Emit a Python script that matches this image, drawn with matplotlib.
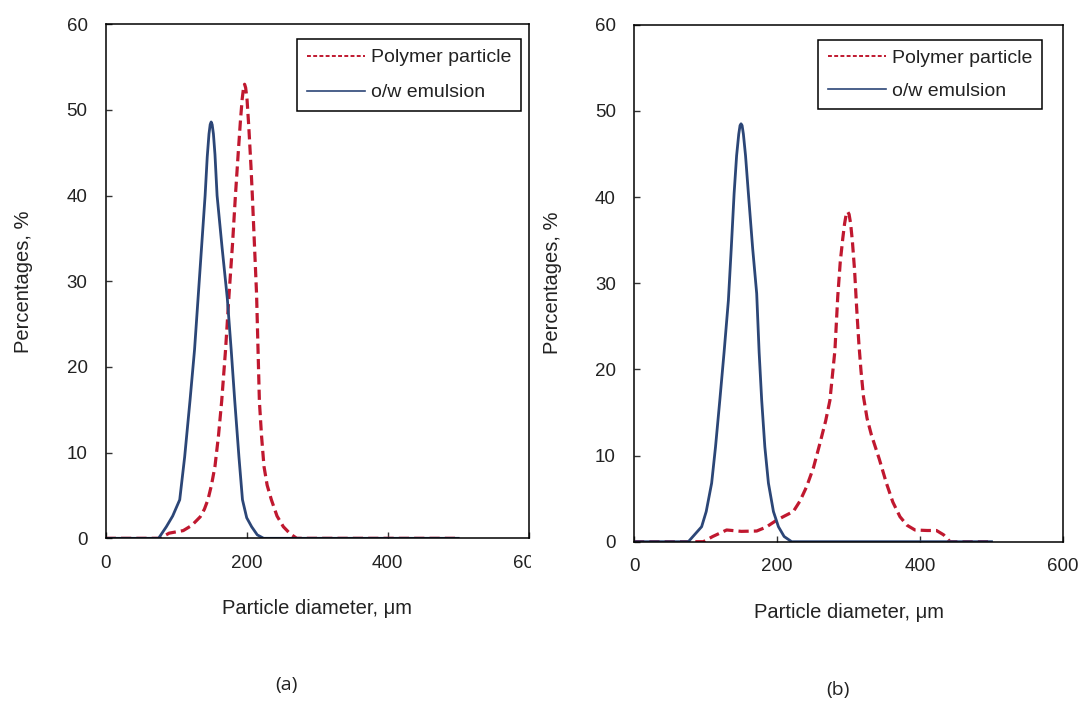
import matplotlib
matplotlib.use("Agg")
import matplotlib.pyplot as plt
from matplotlib.lines import Line2D
from matplotlib.transforms import Bbox, TransformedBbox

plt.rcParams['font.family'] = ['Liberation Sans', 'DejaVu Sans']

# (a) values
a_poly_x = [0, 50, 77, 90, 110, 122, 134, 140, 145, 150, 155, 160, 164.5, 170, 175, 180, 184,
            188, 191, 193.5, 195.5, 197, 198.5, 200.5, 203, 206, 208, 214, 218, 221, 224.5,
            229, 235, 243, 252, 262, 271, 300, 400, 500]
a_poly_y = [0, 0, 0, 0.6, 0.9, 1.5, 2.5, 3.4, 4.5, 6.2, 8.4, 12, 16, 22, 28.5, 34.5, 40,
            45, 48.6, 51.2, 52.6, 53, 52.6, 51.2, 48, 43.5, 40, 28.5, 16, 12, 8.4,
            6.2, 4.5, 2.6, 1.35, 0.5, 0, 0, 0, 0]
a_emul_x = [0, 50, 75, 86, 95, 105, 112, 119.6, 126, 131, 136, 141, 144, 146.5, 148.2, 149.6,
            151, 152.8, 155, 158, 165, 172.5, 178, 183, 189, 194, 200, 207, 215, 224, 300, 400, 500]
a_emul_y = [0, 0, 0, 1.35, 2.6, 4.5, 9.5, 16.1, 22, 28, 34, 40, 44.5, 47.2, 48.3, 48.6,
            48.3, 47.2, 44.8, 40, 34, 28, 22, 16.1, 9.5, 4.5, 2.4, 1.35, 0.4, 0, 0, 0, 0]

# (b)
b_poly_x = [0, 50, 97, 110, 129.6, 150, 171.6, 185, 199.6, 211, 222.8, 232, 241.5, 251, 260,
            268, 274, 281, 285, 288.5, 292, 294.5, 296.8, 298.8, 300.8, 303, 305.5, 308.5, 311.5,
            314.5, 317.5, 321, 326, 332, 343, 353, 362, 372, 382, 393, 410, 423, 433, 442, 470, 500]
b_poly_y = [0, 0, 0, 0.6, 1.36, 1.2, 1.24, 1.7, 2.5, 3.0, 3.5, 4.7, 6.4, 8.6, 11.4,
            14, 16.4, 22.2, 28.5, 32.5, 35.2, 36.9, 38, 38.3, 38, 36.9, 34.8, 31.5, 27,
            23, 19.8, 16.8, 14.3, 12.4, 9.6, 6.8, 4.6, 2.9, 1.9, 1.36, 1.3, 1.3, 0.8, 0, 0, 0]
b_emul_x = [0, 50, 76, 94.6, 101, 108.6, 114, 120, 126, 132, 136, 140, 143.5, 146.5, 148.3,
            149.7, 151.2, 153, 156, 160, 166, 171.6, 175, 178.6, 183, 188, 195, 202, 210, 220.5,
            300, 400, 500]
b_emul_y = [0, 0, 0, 1.74, 3.5, 6.8, 11, 16.4, 22, 28, 34, 40.4, 44.8, 47.3, 48.3,
            48.5, 48.3, 47.3, 44.8, 40.4, 34, 28.8, 22, 16.4, 11, 6.8, 3.5, 1.74, 0.6, 0,
            0, 0, 0]

labels = ['Polymer particle', 'o/w emulsion']
x_ticks = [0, 200, 400, 600]
y_ticks = [0, 10, 20, 30, 40, 50, 60]

red = '#C0182F'
blue = '#2C4677'

W, H = 1080, 702
fig = plt.figure(figsize=(10.8, 7.02), dpi=100)

def px_axes(x0, x1, y0, y1):
    return fig.add_axes([x0 / W, 1 - y1 / H, (x1 - x0) / W, (y1 - y0) / H])

ax1 = px_axes(105.7, 528.7, 24.3, 538.3)
ax2 = px_axes(634, 1063, 24.7, 541.7)

panels = [
    (ax1, a_poly_x, a_poly_y, a_emul_x, a_emul_y, (521, 39), -0.195, '(a)', (286.5, 685), 0.9),
    (ax2, b_poly_x, b_poly_y, b_emul_x, b_emul_y, (1042, 39.6), -0.19, '(b)', (838, 690), 0.78),
]

for ax, px, py, ex, ey, leg_pos, ylab_x, tag, tag_pos, lsp in panels:
    ax.plot(px, py, color=red, lw=2.3, linestyle=(0, (3.2, 1.6)))
    ax.plot(ex, ey, color=blue, lw=2.0)
    ax.set_xlim(0, 600)
    ax.set_ylim(0, 60)
    ax.set_xticks(x_ticks)
    ax.set_yticks(y_ticks)
    ax.tick_params(direction='in', length=4, width=1, labelsize=13.5, color='#333333',
                   labelcolor='#222222')
    ax.tick_params(axis='x', pad=12)
    ax.tick_params(axis='y', pad=13)
    for s in ax.spines.values():
        s.set_linewidth(1.1)
        s.set_color('black')
    ax.set_xlabel('Particle diameter, \u03bcm', fontsize=14.5, color='#222222')
    ax.xaxis.set_label_coords(0.5, -0.136)
    ax.xaxis.label.set_va('center')
    ax.set_ylabel('Percentages, %', fontsize=14.5, color='#222222')
    ax.yaxis.set_label_coords(ylab_x, 0.5)
    ax.yaxis.label.set_va('center')

    handles = [Line2D([], [], color=red, lw=1.4, linestyle=(0, (2, 1.2))),
               Line2D([], [], color=blue, lw=1.2)]
    leg = ax.legend(handles, labels, loc='upper right',
                    bbox_to_anchor=(leg_pos[0] / W, 1 - leg_pos[1] / H),
                    bbox_transform=fig.transFigure, borderaxespad=0,
                    fontsize=14, handlelength=3.0, handletextpad=0.3,
                    borderpad=0.5, labelspacing=lsp, fancybox=False,
                    framealpha=1, edgecolor='black')
    leg.get_frame().set_linewidth(1.1)
    for t in leg.get_texts():
        t.set_color('#222222')

    fig.text(tag_pos[0] / W, 1 - tag_pos[1] / H, tag, fontsize=14,
             family=['Open Sans', 'DejaVu Sans'], ha='center', va='center', color='#222222')

# the last tick label of panel (a) is cut off at the panel edge in the original
clip = TransformedBbox(Bbox.from_extents(0, 0, 531 / W, 1), fig.transFigure)
last = ax1.xaxis.get_major_ticks()[-1].label1
last.set_clip_box(clip)
last.set_clip_on(True)

fig.savefig('out.png', dpi=100)
